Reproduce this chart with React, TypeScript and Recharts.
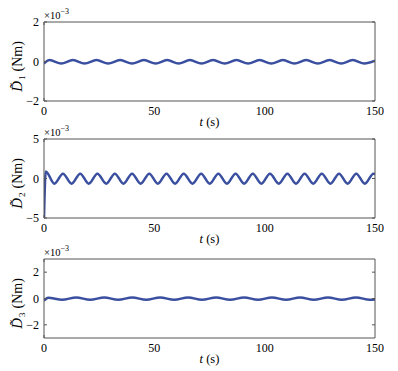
import { LineChart, Line, XAxis, YAxis } from "recharts";

// time axis (s)
const T_TICKS = [0, 50, 100, 150];

// values are in units of 1e-3 Nm
const d1Time = [0, 2.5, 7.8, 13.1, 18.4, 23.8, 29.1, 34.5, 39.9, 45.3, 50.6, 55.8, 61.0, 66.1, 71.4, 76.6, 81.9, 87.2, 92.5, 97.7, 103.0, 108.3, 113.5, 118.8, 124.1, 129.4, 134.7, 139.9, 145.2, 150];
const d1Value = [-0.1, 0.07, -0.1, 0.07, -0.1, 0.07, -0.1, 0.07, -0.1, 0.07, -0.1, 0.07, -0.1, 0.07, -0.1, 0.07, -0.1, 0.07, -0.1, 0.07, -0.1, 0.07, -0.1, 0.07, -0.1, 0.07, -0.1, 0.07, -0.1, 0.04];

const d2Time = [0, 0.8, 4.7, 8.6, 12.5, 16.4, 20.3, 24.2, 28.2, 32.1, 36.0, 39.9, 43.8, 47.7, 51.6, 55.5, 59.4, 63.3, 67.3, 71.2, 75.1, 79.0, 82.9, 86.8, 90.7, 94.6, 98.5, 102.4, 106.4, 110.3, 114.2, 118.1, 122.0, 125.9, 129.8, 133.7, 137.6, 141.5, 145.4, 149.3, 150];
const d2Value = [-5, 0.9, -0.65, 0.6, -0.65, 0.6, -0.65, 0.6, -0.65, 0.6, -0.65, 0.6, -0.65, 0.6, -0.65, 0.6, -0.65, 0.6, -0.65, 0.6, -0.65, 0.6, -0.65, 0.6, -0.65, 0.6, -0.65, 0.6, -0.65, 0.6, -0.65, 0.6, -0.65, 0.6, -0.65, 0.6, -0.65, 0.6, -0.65, 0.6, 0.58];

const d3Time = [0, 1.9, 8.2, 14.6, 20.9, 27.3, 33.6, 40.0, 46.3, 52.6, 59.0, 65.3, 71.6, 78.0, 84.3, 90.7, 97.0, 103.3, 109.7, 116.0, 122.3, 128.7, 135.0, 141.4, 147.7, 150];
const d3Value = [-0.17, 0.06, -0.1, 0.08, -0.1, 0.08, -0.1, 0.08, -0.1, 0.08, -0.1, 0.08, -0.1, 0.08, -0.1, 0.08, -0.1, 0.08, -0.1, 0.08, -0.1, 0.08, -0.1, 0.08, -0.1, -0.08];

const FONT = "'Liberation Serif', 'Times New Roman', serif";
const BLUE = "#3a4f9f";
const AXIS = "#555";

const toRows = (t: number[], v: number[]) => t.map((x, i) => ({ t: x, v: v[i] }));

function YTitle({ viewBox, sub }: any) {
  const cy = viewBox.y + viewBox.height / 2 + 5;
  const right = viewBox.x + viewBox.width;
  return (
    <g fontFamily={FONT} fill="#000">
      <text transform={`translate(22, ${cy}) rotate(-90)`} textAnchor="middle" fontSize={14}>
        <tspan fontStyle="italic" fontSize={15}>{"D\u0303"}</tspan>
        <tspan fontSize={9} dx={1} dy={3}>{sub}</tspan>
        <tspan dx={4} dy={-3}>(Nm)</tspan>
      </text>
      <text x={right} y={viewBox.y - 3} fontSize={10.5}>
        ×10<tspan fontSize={8} dy={-5}>−3</tspan>
      </text>
    </g>
  );
}

function XTitle({ viewBox }: any) {
  return (
    <text x={viewBox.x + viewBox.width / 2} y={viewBox.y + 25} textAnchor="middle" fontFamily={FONT} fontSize={12.5} fill="#000">
      <tspan fontStyle="italic">t</tspan> (s)
    </text>
  );
}

type PanelProps = {
  rows: { t: number; v: number }[];
  domain: [number, number];
  ticks: number[];
  sub: string;
  top: number;
};

const tickFont = { fill: "#000", fontSize: 12, fontFamily: FONT };
const blank = () => "";

function Panel({ rows, domain, ticks, sub, top }: PanelProps) {
  return (
    <div style={{ position: "absolute", left: 0, top }}>
      <LineChart width={398} height={131} data={rows} margin={{ top: 22, right: 23, bottom: 0, left: 0 }}>
        <XAxis xAxisId="b" dataKey="t" type="number" domain={[0, 150]} ticks={T_TICKS} allowDataOverflow
          tickLine={false} tickSize={0} tickMargin={5} axisLine={{ stroke: AXIS }} tick={tickFont} height={30}
          label={<XTitle />} />
        <XAxis xAxisId="bm" type="number" domain={[0, 150]} ticks={T_TICKS} allowDataOverflow mirror
          tickSize={3} tickFormatter={blank} axisLine={false} tickLine={{ stroke: AXIS }} />
        <XAxis xAxisId="tm" orientation="top" type="number" domain={[0, 150]} ticks={T_TICKS} allowDataOverflow mirror
          tickSize={3} tickFormatter={blank} axisLine={{ stroke: AXIS }} tickLine={{ stroke: AXIS }} />
        <YAxis yAxisId="l" type="number" domain={domain} ticks={ticks} allowDataOverflow width={44}
          tickLine={false} tickSize={0} tickMargin={5} axisLine={{ stroke: AXIS }} tick={tickFont}
          tickFormatter={(v: number) => (v < 0 ? `−${-v}` : `${v}`)} label={<YTitle sub={sub} />} />
        <YAxis yAxisId="lm" type="number" domain={domain} ticks={ticks} allowDataOverflow mirror
          tickSize={3} tickFormatter={blank} axisLine={false} tickLine={{ stroke: AXIS }} />
        <YAxis yAxisId="rm" orientation="right" type="number" domain={domain} ticks={ticks} allowDataOverflow mirror
          tickSize={3} tickFormatter={blank} axisLine={{ stroke: AXIS }} tickLine={{ stroke: AXIS }} />
        <Line xAxisId="b" yAxisId="l" dataKey="v" type="monotone" stroke={BLUE} strokeWidth={2.5}
          dot={false} isAnimationActive={false} />
      </LineChart>
    </div>
  );
}

export default function App() {
  return (
    <div style={{ position: "absolute", left: 0, top: 0, width: 398, height: 371, background: "#fff" }}>
      <Panel rows={toRows(d1Time, d1Value)} domain={[-2, 2]} ticks={[-2, 0, 2]} sub="1" top={0} />
      <Panel rows={toRows(d2Time, d2Value)} domain={[-5, 5]} ticks={[-5, 0, 5]} sub="2" top={117} />
      <Panel rows={toRows(d3Time, d3Value)} domain={[-3, 3]} ticks={[-2, 0, 2]} sub="3" top={237} />
    </div>
  );
}
